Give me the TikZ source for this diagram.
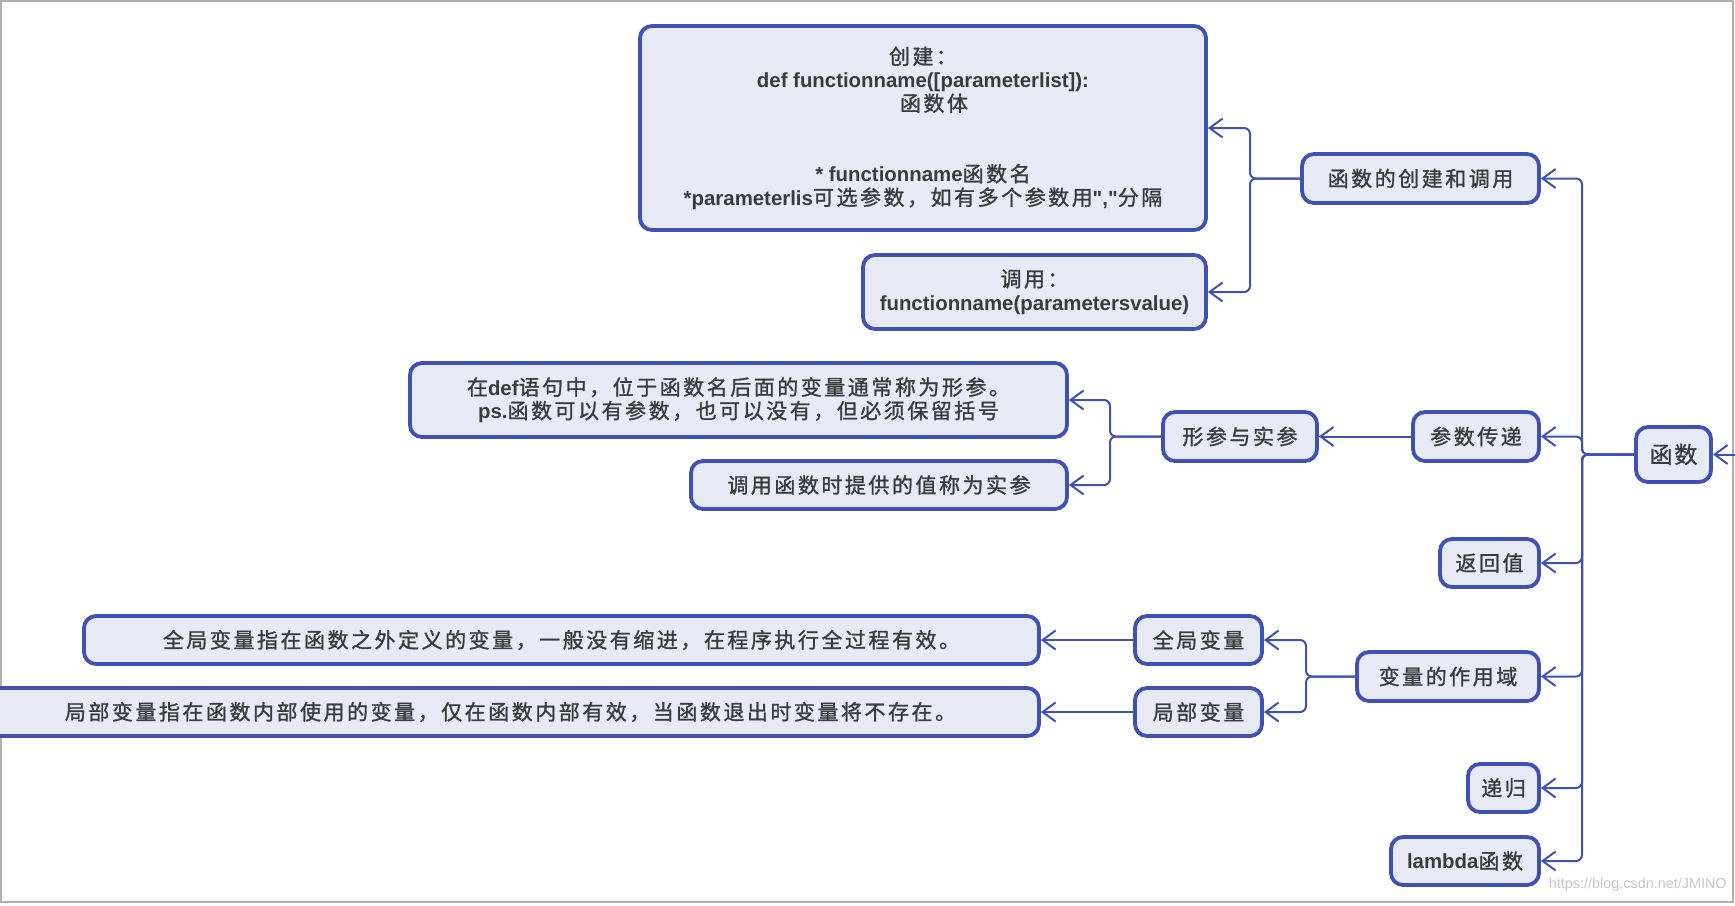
\documentclass[tikz,border=0pt]{standalone}
\usepackage{fontspec}
\usetikzlibrary{arrows.meta}
\newfontfamily\cjkfont[LetterSpace=12, FakeBold=1.2]{Noto Sans CJK SC}
\newfontfamily\rootfont[LetterSpace=8, FakeBold=1.2]{Noto Sans CJK SC}
\newfontfamily\latfont{Liberation Sans}
\definecolor{bord}{HTML}{3F51B5}
\definecolor{boxfill}{HTML}{E8EAF6}
\definecolor{txt}{HTML}{383C40}
\definecolor{frame}{HTML}{B0B0B0}
\newcommand\lsb[1]{{\latfont\bfseries\fontsize{10.2pt}{11.75pt}\selectfont #1}}
\begin{document}
\begin{tikzpicture}[x=0.5pt,y=-0.5pt,
  mbox/.style={draw=bord, fill=boxfill, line width=1.9pt, rounded corners=6pt,
    text=txt, align=center, inner sep=0pt,
    font=\cjkfont\fontsize{10.5pt}{11.75pt}\selectfont},
  conn/.style={draw=bord, line width=1pt, rounded corners=3pt,
    -{Straight Barb[length=6.5pt,width=9.5pt]}}]
\useasboundingbox (0,0) rectangle (1735,905);
\clip (0,0) rectangle (1735,905);
\fill[white] (0,0) rectangle (1735,905);
\draw[frame, line width=1pt] (1,1) rectangle (1733,902);

% nodes
\node[mbox, minimum width=283pt, minimum height=102pt] (c1) at (923,128)
  {创建：\\ \lsb{def functionname([parameterlist]):}\\ \hspace*{11pt}函数体\\[23.5pt]
   \lsb{* functionname}函数名\\ \lsb{*parameterlis}可选参数，如有多个参数用\lsb{","}分隔};
\node[mbox, minimum width=171.5pt, minimum height=37pt] (c2) at (1034.5,292)
  {调用：\\ \lsb{functionname(parametersvalue)}};
\node[mbox, minimum width=118.5pt, minimum height=24.5pt] (n1) at (1420.5,178.5) {函数的创建和调用};
\node[mbox, minimum width=328.5pt, minimum height=37pt] (d1) at (738.5,400)
  {在\lsb{def}语句中，位于函数名后面的变量通常称为形参。\\ \lsb{ps.}函数可以有参数，也可以没有，但必须保留括号};
\node[mbox, minimum width=188pt, minimum height=24pt] (d2) at (879,485) {调用函数时提供的值称为实参};
\node[mbox, minimum width=77pt, minimum height=24.5pt] (xs) at (1240,436.5) {形参与实参};
\node[mbox, minimum width=63pt, minimum height=24.5pt] (cs) at (1476,436.5) {参数传递};
\node[mbox, minimum width=37.5pt, minimum height=27.5pt,
  font=\rootfont\fontsize{11.5pt}{13pt}\selectfont] (root) at (1673.5,454.5) {函数};
\node[mbox, minimum width=49.5pt, minimum height=24pt] (fh) at (1489.5,563) {返回值};
\node[mbox, minimum width=477.5pt, minimum height=24pt] (gd) at (561.5,640)
  {全局变量指在函数之外定义的变量，一般没有缩进，在程序执行全过程有效。};
\node[mbox, minimum width=528.5pt, minimum height=24pt] (ld) at (510.5,712)
  {局部变量指在函数内部使用的变量，仅在函数内部有效，当函数退出时变量将不存在。};
\node[mbox, minimum width=63.5pt, minimum height=24pt] (gv) at (1198.5,640) {全局变量};
\node[mbox, minimum width=63.5pt, minimum height=24pt] (lv) at (1198.5,712) {局部变量};
\node[mbox, minimum width=91pt, minimum height=24.5pt] (zy) at (1448,676.5) {变量的作用域};
\node[mbox, minimum width=35.5pt, minimum height=24pt] (dg) at (1503.5,788) {递归};
\node[mbox, minimum width=74pt, minimum height=24pt] (lb) at (1465,861) {\lsb{lambda}函数};

% trunk coordinates
\coordinate (tk) at (1582,454.5);
\coordinate (s1) at (1250,178.5);
\coordinate (s2) at (1110,436.5);
\coordinate (s3) at (1306,676.5);
\coordinate (ext) at (1750,454.5);

% connectors
\draw[conn] (ext) -- (root.east);
\draw[conn] (root.west) -- (tk) |- (n1.east);
\draw[conn] (root.west) -- (tk) |- (cs.east);
\draw[conn] (root.west) -- (tk) |- (fh.east);
\draw[conn] (root.west) -- (tk) |- (zy.east);
\draw[conn] (root.west) -- (tk) |- (dg.east);
\draw[conn] (root.west) -- (tk) |- (lb.east);
\draw[conn] (n1.west) -- (s1) |- (c1.east);
\draw[conn] (n1.west) -- (s1) |- (c2.east);
\draw[conn] (cs.west) -- (xs.east);
\draw[conn] (xs.west) -- (s2) |- (d1.east);
\draw[conn] (xs.west) -- (s2) |- (d2.east);
\draw[conn] (zy.west) -- (s3) |- (gv.east);
\draw[conn] (zy.west) -- (s3) |- (lv.east);
\draw[conn] (gv.west) -- (gd.east);
\draw[conn] (lv.west) -- (ld.east);

% watermark
\node[anchor=east, inner sep=0pt, text=black!22,
  font=\latfont\fontsize{7.2pt}{8pt}\selectfont] (wm) at (1727,885) {https://blog.csdn.net/JMINO};
\end{tikzpicture}
\end{document}
